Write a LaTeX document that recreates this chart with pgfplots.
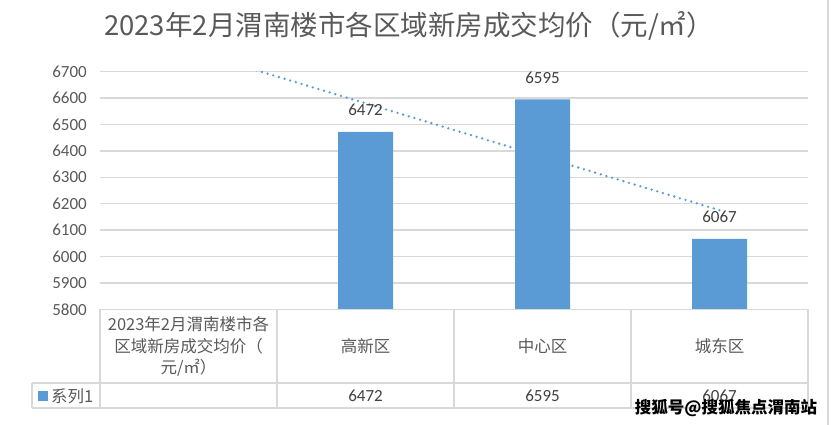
\documentclass[border=0pt]{standalone}
\usepackage{fontspec}
\setmainfont{Carlito}
\newfontfamily\cjk{Noto Sans CJK SC}
\usepackage{pgfplots}
\pgfplotsset{compat=1.18}
\definecolor{barc}{HTML}{5B9BD5}
\definecolor{gridc}{HTML}{D9D9D9}
\definecolor{txt}{HTML}{595959}
\definecolor{num}{HTML}{404040}
\begin{document}
\begin{tikzpicture}
\useasboundingbox (0pt,0pt) rectangle (831pt,-425pt);
\begin{axis}[
  at={(100pt,-309.3pt)}, anchor=south west,
  scale only axis, width=708pt, height=237.6pt,
  xmin=-0.5, xmax=3.5, ymin=5800, ymax=6700,
  ytick={5800,5900,...,6700}, xtick=\empty,
  axis line style={draw=none},
  ymajorgrids, grid style={gridc, line width=1.3pt},
  major tick length=0pt,
  /pgf/number format/assume math mode=true,
  /pgf/number format/1000 sep={},
  yticklabel style={font=\fontsize{17}{20}\selectfont, text=txt, anchor=east, inner sep=0pt, xshift=-13pt},
]
\addplot[barc, line width=2.6pt, line cap=round, dash pattern=on 0pt off 5.9pt] coordinates {(0,6783) (3,6175.5)};
\addplot[ybar, bar width=55pt, fill=barc, draw=none,
  nodes near coords,
  nodes near coords style={font=\fontsize{17}{20}\selectfont, text=num, anchor=center, yshift=22pt}]
  coordinates {(1,6472) (2,6595) (3,6067)};
\end{axis}
\begin{scope}[x=1pt,y=-1pt]
\draw[gridc, line width=1.3pt] (100,309.3) -- (808,309.3);
\draw[gridc, line width=1.3pt] (32,383) -- (808,383);
\draw[gridc, line width=1.3pt] (32,408) -- (808,408);
\foreach \xx in {100,277,454,631,808} {\draw[gridc, line width=1.3pt] (\xx,309.3) -- (\xx,408);}
\draw[gridc, line width=1.3pt] (32,383) -- (32,408);
\draw[gridc, line width=1.3pt] (828,0) -- (828,425);
\node[text=txt, font=\cjk\fontsize{27.5}{30}\selectfont] at (409,26) {2023年2月渭南楼市各区域新房成交均价（元/㎡）};
\node[text=txt, font=\cjk\fontsize{16.5}{21.5}\selectfont, align=center, inner sep=0pt] at (188.5,346.5) {2023年2月渭南楼市各\\区域新房成交均价（\\元/㎡）};
\node[text=txt, font=\cjk\fontsize{16.5}{20}\selectfont] at (365.5,346.5) {高新区};
\node[text=txt, font=\cjk\fontsize{16.5}{20}\selectfont] at (542.5,346.5) {中心区};
\node[text=txt, font=\cjk\fontsize{16.5}{20}\selectfont] at (719.5,346.5) {城东区};
\node[text=num, font=\fontsize{17}{20}\selectfont] at (365.5,396) {6472};
\node[text=num, font=\fontsize{17}{20}\selectfont] at (542.5,396) {6595};
\node[text=num, font=\fontsize{17}{20}\selectfont] at (719.5,396) {6067};
\fill[barc] (38.3,390.5) rectangle (48.3,401);
\node[text=txt, font=\cjk\fontsize{16.5}{20}\selectfont, anchor=west, inner sep=0pt] at (51,396) {系列1};
\node[text=black, font=\cjk\bfseries\fontsize{16.5}{20}\selectfont, inner sep=1pt] at (726,408) {搜狐号@搜狐焦点渭南站};
\end{scope}
\end{tikzpicture}
\end{document}
